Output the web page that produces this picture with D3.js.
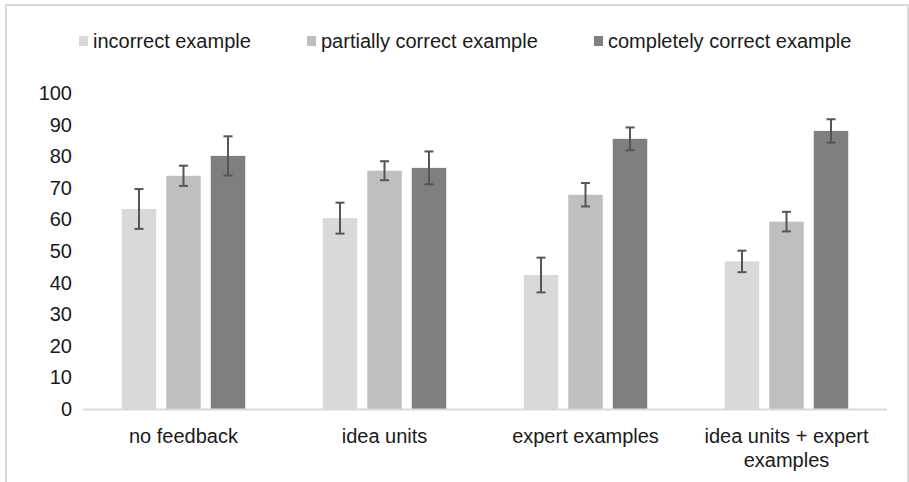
<!DOCTYPE html>
<html><head><meta charset="utf-8">
<script src="https://cdn.jsdelivr.net/npm/d3@7"></script>
<style>body{margin:0;background:#fff}svg{display:block}text{font-family:"Liberation Sans",Arial,sans-serif;fill:#1a1a1a}</style>
</head><body><svg id="c" width="909" height="482"></svg>
<script>
const categories = ["no feedback", "idea units", "expert examples", "idea units + expert examples"];
const seriesNames = ["incorrect example", "partially correct example", "completely correct example"];
const incorrect = [63.3, 60.4, 42.4, 46.7];
const partial = [73.8, 75.4, 67.8, 59.3];
const complete = [80.1, 76.3, 85.5, 88.0];
const errIncorrect = [6.3, 4.9, 5.5, 3.4];
const errPartial = [3.2, 3.0, 3.7, 3.1];
const errComplete = [6.2, 5.2, 3.6, 3.7];
const yTicks = [0,10,20,30,40,50,60,70,80,90,100];
const colors = ["#d9d9d9", "#bfbfbf", "#7f7f7f"];

(function(){
const values = [incorrect, partial, complete];
const errs = [errIncorrect, errPartial, errComplete];
const svg = d3.select("#c");

// outer border
svg.append("rect").attr("x",6).attr("y",5).attr("width",902).attr("height",490)
  .attr("fill","none").attr("stroke","#d9d9d9").attr("stroke-width",2);

const pLeft = 83, pRight = 887, pTop = 93, pBottom = 409;
const x0 = d3.scaleBand().domain(categories).range([pLeft, pRight]).paddingInner(0).paddingOuter(0);
const y = d3.scaleLinear().domain([0,100]).range([pBottom, pTop]);
const bw = 34.5, step = 44.5;
const fs = "20px";

// y labels
svg.append("g").selectAll("text").data(yTicks).join("text")
  .attr("x", 72).attr("y", d => y(d)).attr("dy","0.35em").attr("text-anchor","end")
  .style("font-size",fs).text(d => d);

// bars
values.forEach((vals, s) => {
  const g = svg.append("g");
  categories.forEach((c, i) => {
    const cx = x0(c) + x0.bandwidth()/2 + (s-1)*step;
    g.append("rect").attr("x", cx - bw/2).attr("y", y(vals[i]))
      .attr("width", bw).attr("height", y(0) - y(vals[i])).attr("fill", colors[s]);
  });
});

// axis line
svg.append("line").attr("x1",pLeft).attr("x2",pRight).attr("y1",pBottom+0.5).attr("y2",pBottom+0.5)
  .attr("stroke","#d9d9d9").attr("stroke-width",2);

// error bars
values.forEach((vals, s) => {
  const g = svg.append("g").attr("stroke","#555").attr("stroke-width",2);
  categories.forEach((c, i) => {
    const cx = x0(c) + x0.bandwidth()/2 + (s-1)*step;
    const hi = y(vals[i] + errs[s][i]), lo = y(vals[i] - errs[s][i]);
    g.append("line").attr("x1",cx).attr("x2",cx).attr("y1",hi).attr("y2",lo);
    g.append("line").attr("x1",cx-4.5).attr("x2",cx+4.5).attr("y1",hi).attr("y2",hi);
    g.append("line").attr("x1",cx-4.5).attr("x2",cx+4.5).attr("y1",lo).attr("y2",lo);
  });
});

// x labels
const xl = svg.append("g");
categories.forEach(c => {
  const cx = x0(c) + x0.bandwidth()/2;
  const lines = c === "idea units + expert examples" ? ["idea units + expert", "examples"] : [c];
  lines.forEach((t, k) => {
    xl.append("text").attr("x", cx).attr("y", 436 + k*24).attr("dy","0.35em")
      .attr("text-anchor","middle").style("font-size",fs).text(t);
  });
});

// legend
const legX = [79, 307, 594];
const lg = svg.append("g");
seriesNames.forEach((n, s) => {
  lg.append("rect").attr("x", legX[s]).attr("y", 36).attr("width", 9).attr("height", 10).attr("fill", colors[s]);
  lg.append("text").attr("x", legX[s] + 14).attr("y", 41).attr("dy","0.35em")
    .style("font-size",fs).text(n);
});
})();
</script></body></html>
